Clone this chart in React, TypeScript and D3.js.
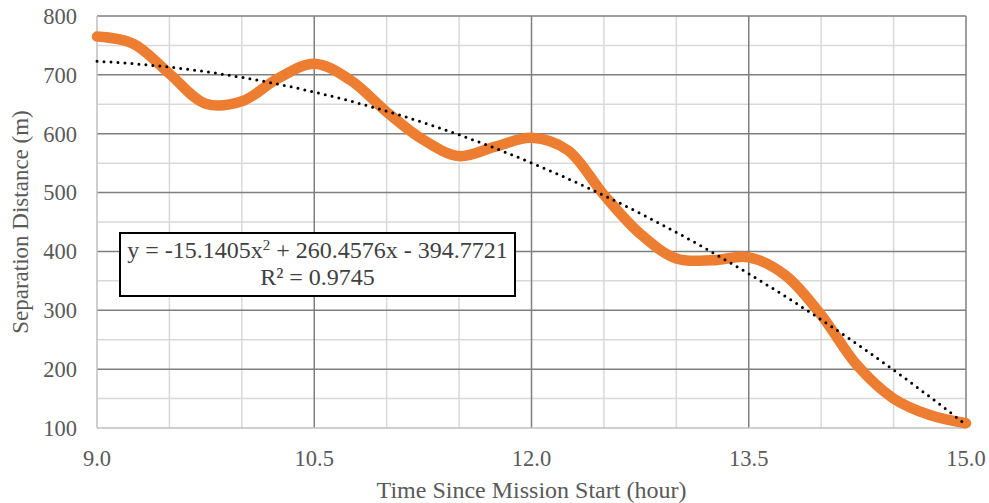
import React from "react";
import * as d3 from "d3";

const hours = [9.0, 9.25, 9.5, 9.75, 10.0, 10.25, 10.5, 10.75, 11.0, 11.25, 11.5, 11.75, 12.0, 12.25, 12.5, 12.75, 13.0, 13.25, 13.5, 13.75, 14.0, 14.25, 14.5, 14.75, 15.0];
const distance = [765, 753, 702, 651, 655, 694, 719, 691, 637, 590, 562, 578, 593, 572, 496, 430, 388, 385, 390, 360, 292, 206, 150, 122, 108];
const trendCoef = [-15.1405, 260.4576, -394.7721];
const xTicks = [9.0, 10.5, 12.0, 13.5, 15.0];
const xMinor = [9.5, 10, 11, 11.5, 12.5, 13, 14, 14.5];
const yTicks = [100, 200, 300, 400, 500, 600, 700, 800];
const yMinor = [150, 250, 350, 450, 550, 650, 750];
const xTitle = "Time Since Mission Start (hour)";
const yTitle = "Separation Distance (m)";

const W = 989, H = 503;
const L = 97, R = 966, T = 16, B = 428;
const font = "'Liberation Serif', 'Times New Roman', serif";

export default function App() {
  const x = d3.scaleLinear().domain([9, 15]).range([L, R]);
  const y = d3.scaleLinear().domain([100, 800]).range([B, T]);
  const pts: [number, number][] = hours.map((h, i) => [h, distance[i]]);
  const line = d3.line<[number, number]>().x(d => x(d[0])).y(d => y(d[1])).curve(d3.curveCatmullRom.alpha(0.5));
  const trendPts: [number, number][] = d3.range(9, 15.0001, 0.05).map(h => [h, trendCoef[0] * h * h + trendCoef[1] * h + trendCoef[2]]);
  const trendLine = d3.line<[number, number]>().x(d => x(d[0])).y(d => y(d[1]));
  return (
    <svg width={W} height={H} style={{ position: "fixed", left: 0, top: 0, background: "#fff" }}>
      <rect x={0} y={0} width={W} height={H} fill="#fff" />
      {xMinor.map(v => <line key={"xm" + v} x1={x(v)} x2={x(v)} y1={T} y2={B} stroke="#d9d9d9" strokeWidth={1.5} />)}
      {yMinor.map(v => <line key={"ym" + v} x1={L} x2={R} y1={y(v)} y2={y(v)} stroke="#d9d9d9" strokeWidth={1.5} />)}
      {yTicks.filter(v => v !== 100).map(v => <line key={"yM" + v} x1={L} x2={R} y1={y(v)} y2={y(v)} stroke="#7f7f7f" strokeWidth={1.5} />)}
      {xTicks.filter(v => v !== 9).map(v => <line key={"xM" + v} x1={x(v)} x2={x(v)} y1={T} y2={B} stroke="#7f7f7f" strokeWidth={1.5} />)}
      <line x1={L} x2={L} y1={T} y2={B} stroke="#bfbfbf" strokeWidth={1.5} />
      <line x1={L} x2={R} y1={B} y2={B} stroke="#bfbfbf" strokeWidth={1.5} />
      {yTicks.map(v => (
        <text key={"yt" + v} x={77} y={y(v)} dy="0.35em" textAnchor="end" fontFamily={font} fontSize={22.5} fill="#595959">{v}</text>
      ))}
      {xTicks.map(v => (
        <text key={"xt" + v} x={x(v)} y={458} dy="0.35em" textAnchor="middle" fontFamily={font} fontSize={22.5} fill="#595959">{v.toFixed(1)}</text>
      ))}
      <text x={x(12)} y={490} dy="0.35em" textAnchor="middle" fontFamily={font} fontSize={24} fill="#595959">{xTitle}</text>
      <text transform={`translate(20,${(T + B) / 2}) rotate(-90)`} dy="0.35em" textAnchor="middle" fontFamily={font} fontSize={23} fill="#595959">{yTitle}</text>
      <path d={line(pts) || ""} fill="none" stroke="#ed7d31" strokeWidth={10.5} strokeLinecap="round" strokeLinejoin="round" />
      <path d={trendLine(trendPts) || ""} fill="none" stroke="#000" strokeWidth={3} strokeDasharray="0 7" strokeLinecap="round" />
      <rect x={120} y={233} width={395} height={63} fill="#fff" stroke="#000" strokeWidth={2} />
      <text x={317.5} y={258} textAnchor="middle" fontFamily={font} fontSize={24} fill="#404040">
        y = -15.1405x<tspan fontSize={15} dy={-8}>2</tspan><tspan dy={8}> + 260.4576x - 394.7721</tspan>
      </text>
      <text x={317.5} y={285} textAnchor="middle" fontFamily={font} fontSize={24} fill="#404040">R² = 0.9745</text>
    </svg>
  );
}
